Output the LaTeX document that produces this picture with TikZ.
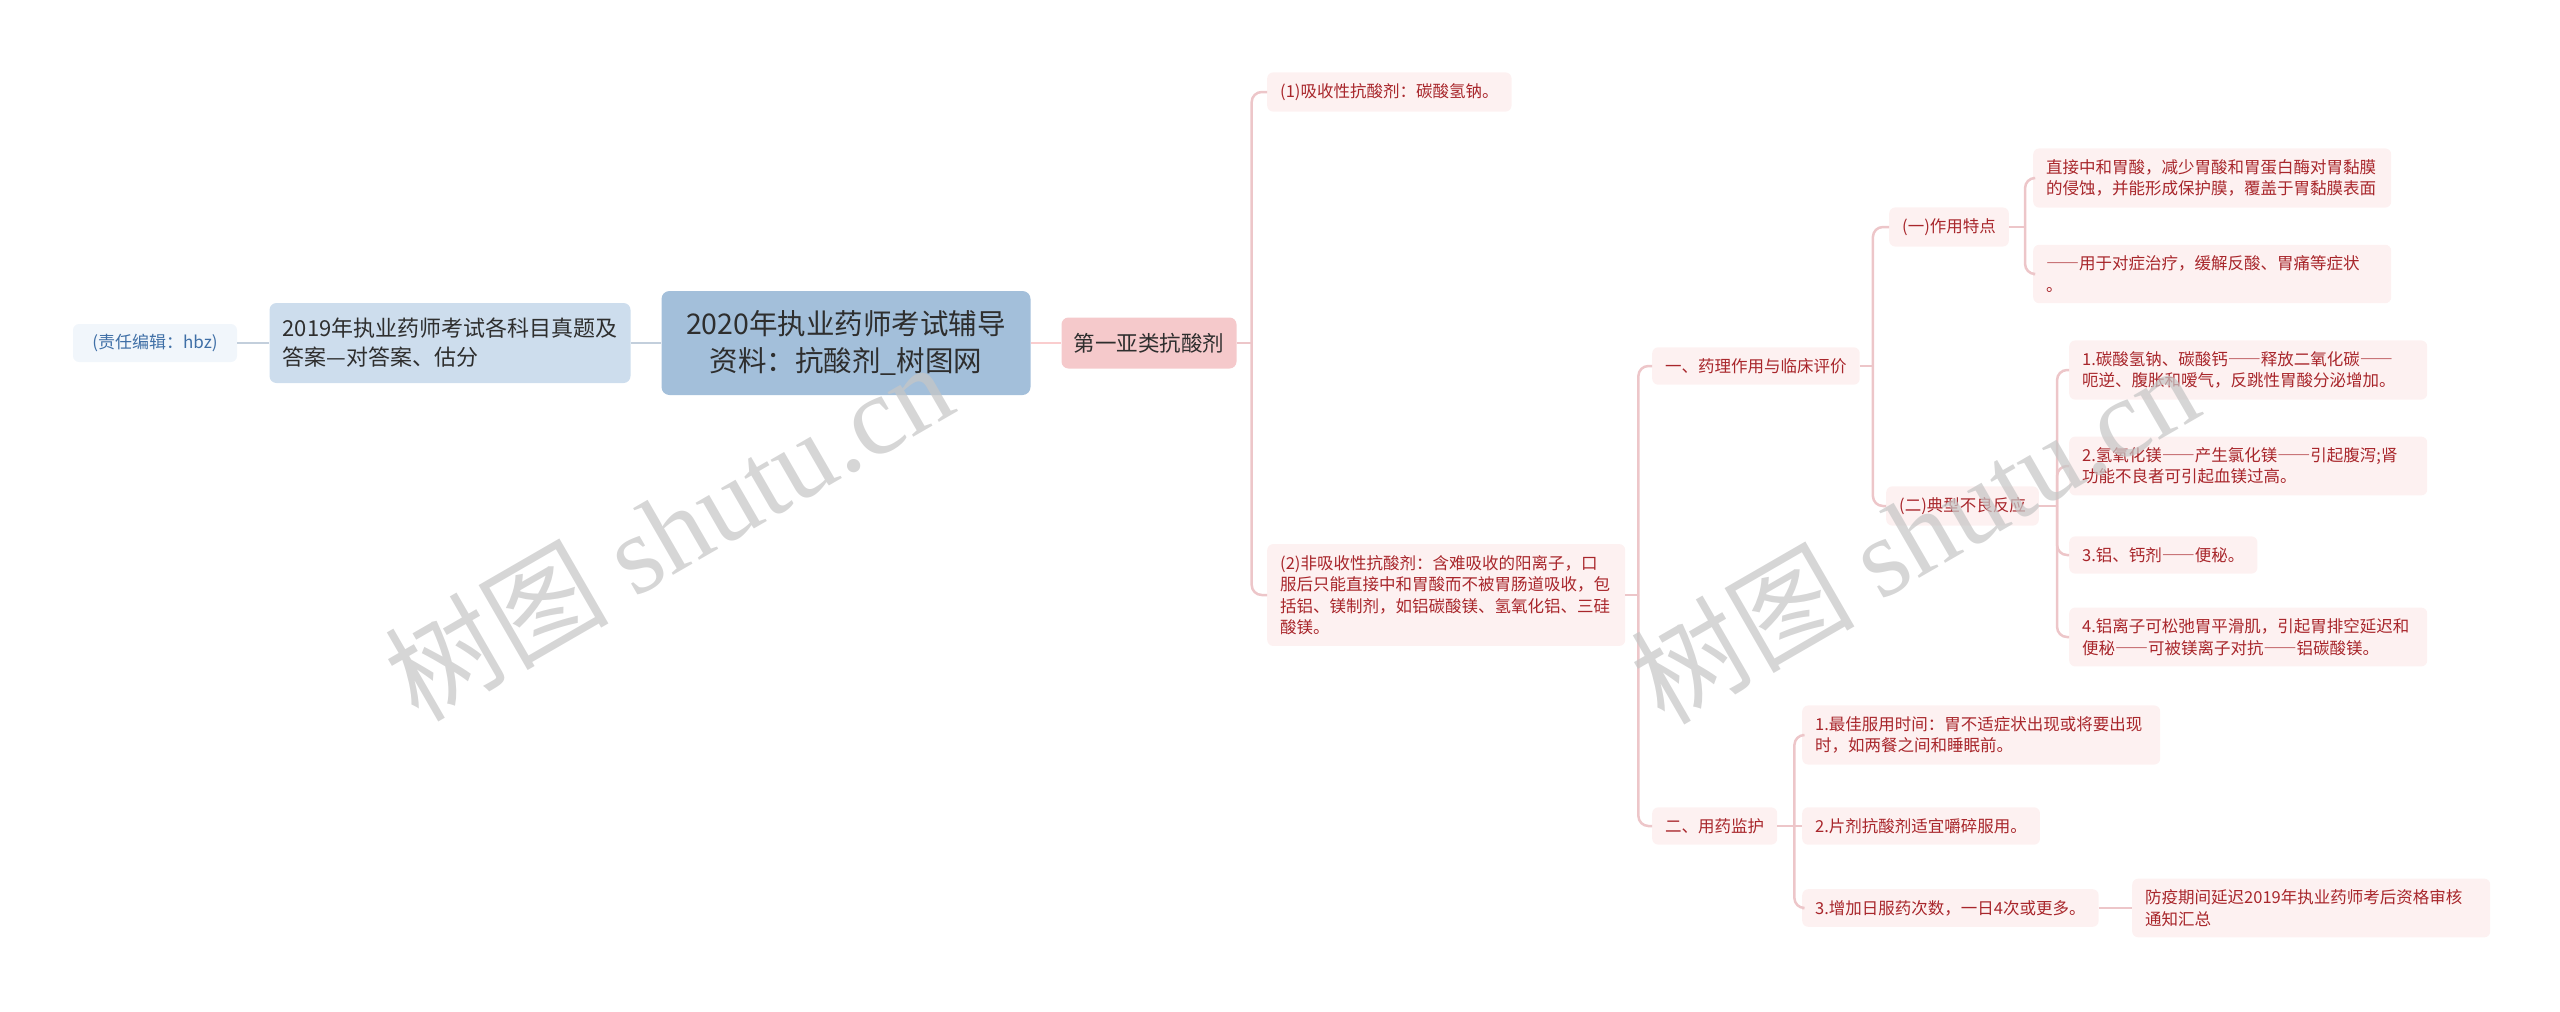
\documentclass[tikz,border=0pt]{standalone}
\usepackage{fontspec}
\setmainfont{Noto Sans CJK SC}
\newfontfamily\wmlatin{Liberation Serif}
\newcommand\dsh{{\addfontfeature{CharacterWidth=Full}——}}
\definecolor{leafbg}{HTML}{FDF1F1}
\definecolor{leaftx}{HTML}{A8262B}
\definecolor{pinkln}{HTML}{EDC6C9}
\definecolor{bluln}{HTML}{C3CFDC}
\definecolor{rootbg}{HTML}{A3BFDA}
\definecolor{lonebg}{HTML}{CDDDED}
\definecolor{edbg}{HTML}{F1F6FB}
\definecolor{edtx}{HTML}{3F6FA6}
\definecolor{subbg}{HTML}{F5C9CB}
\definecolor{darktx}{HTML}{2E2E2E}
\tikzset{
  leaf/.style={fill=leafbg, text=leaftx, rounded corners=6pt, inner xsep=13pt, inner ysep=11pt,
    font=\fontsize{16.5}{21.5}\selectfont, anchor=west, align=left},
  wrapleaf/.style={leaf, text width=332pt},
  link/.style={draw=pinkln, line width=2.5pt, rounded corners=10pt},
  blink/.style={draw=bluln, line width=2.5pt},
  wm/.style={text=gray!45, text opacity=0.72, font=\fontsize{112}{112}\selectfont, inner sep=0pt}
}
\begin{document}
\begin{tikzpicture}[x=1pt,y=-1pt]
\useasboundingbox (0,0) rectangle (2560,1012);

% left side
\node[fill=edbg, text=edtx, rounded corners=6pt, minimum width=164pt, minimum height=38pt,
  font=\fontsize{17}{20}\selectfont] (ed) at (155,343) {(责任编辑：hbz)};
\node[fill=lonebg, text=darktx, rounded corners=7pt, minimum width=361pt, minimum height=80pt,
  align=left, font=\fontsize{22}{29}\selectfont] (lone) at (450,343)
  {2019年执业药师考试各科目真题及\\答案—对答案、估分};
\node[fill=rootbg, text=darktx, rounded corners=8pt, minimum width=369pt, minimum height=104pt,
  align=center, font=\fontsize{28.5}{37.5}\selectfont] (root) at (846,343)
  {2020年执业药师考试辅导\\资料：抗酸剂\_树图网};
\node[fill=subbg, text=darktx, rounded corners=7pt, minimum width=175pt, minimum height=51pt,
  font=\fontsize{21.5}{24}\selectfont] (sub) at (1149,343) {第一亚类抗酸剂};

\draw[blink] (ed.east) -- (lone.west);
\draw[blink] (lone.east) -- (root.west);
\draw[draw=subbg!85!red!60!white, line width=2.5pt] (root.east) -- (sub.west);

% level 2
\node[leaf] (a1) at (1267,92) {(1)吸收性抗酸剂：碳酸氢钠。};
\node[wrapleaf] (a2) at (1267,595) {(2)非吸收性抗酸剂：含难吸收的阳离子，口\\服后只能直接中和胃酸而不被胃肠道吸收，包\\括铝、镁制剂，如铝碳酸镁、氢氧化铝、三硅\\酸镁。};

% level 3
\node[leaf] (b1) at (1652,366) {一、药理作用与临床评价};
\node[leaf] (b2) at (1652,826) {二、用药监护};

% level 4
\node[leaf] (c1) at (1889,227) {(一)作用特点};
\node[leaf] (c2) at (1886,506) {(二)典型不良反应};

% leaves under (一)
\node[wrapleaf] (d1) at (2033,178) {直接中和胃酸，减少胃酸和胃蛋白酶对胃黏膜\\的侵蚀，并能形成保护膜，覆盖于胃黏膜表面};
\node[wrapleaf] (d2) at (2033,274) {\dsh 用于对症治疗，缓解反酸、胃痛等症状\\。};

% leaves under (二)
\node[wrapleaf] (e1) at (2069,370) {1.碳酸氢钠、碳酸钙\dsh 释放二氧化碳\dsh\\呃逆、腹胀和嗳气，反跳性胃酸分泌增加。};
\node[wrapleaf] (e2) at (2069,466) {2.氢氧化镁\dsh 产生氯化镁\dsh 引起腹泻;肾\\功能不良者可引起血镁过高。};
\node[leaf] (e3) at (2069,555) {3.铝、钙剂\dsh 便秘。};
\node[wrapleaf] (e4) at (2069,637) {4.铝离子可松弛胃平滑肌，引起胃排空延迟和\\便秘\dsh 可被镁离子对抗\dsh 铝碳酸镁。};

% leaves under 二
\node[wrapleaf] (f1) at (1802,735) {1.最佳服用时间：胃不适症状出现或将要出现\\时，如两餐之间和睡眠前。};
\node[leaf] (f2) at (1802,826) {2.片剂抗酸剂适宜嚼碎服用。};
\node[leaf] (f3) at (1802,908) {3.增加日服药次数，一日4次或更多。};
\node[wrapleaf] (g1) at (2132,908) {防疫期间延迟2019年执业药师考后资格审核\\通知汇总};

% trunks
\path (sub.east) ++(15,0) coordinate (ts);
\path (a2.east) ++(13,0) coordinate (ta);
\path (b1.east) ++(13,0) coordinate (tb);
\path (c1.east) ++(16,0) coordinate (tc);
\path (c2.east) ++(18,0) coordinate (td);
\path (b2.east) ++(17,0) coordinate (te);

\draw[link] (sub.east) -- (ts);
\draw[link] (ts) |- (a1.west);
\draw[link] (ts) |- (a2.west);

\draw[link] (a2.east) -- (ta);
\draw[link] (ta) |- (b1.west);
\draw[link] (ta) |- (b2.west);

\draw[link] (b1.east) -- (tb);
\draw[link] (tb) |- (c1.west);
\draw[link] (tb) |- (c2.west);

\draw[link] (c1.east) -- (tc);
\draw[link] (tc) |- (d1.west);
\draw[link] (tc) |- (d2.west);

\draw[link] (c2.east) -- (td);
\draw[link] (td) |- (e1.west);
\draw[link] (td) |- (e2.west);
\draw[link] (td) |- (e3.west);
\draw[link] (td) |- (e4.west);

\draw[link] (b2.east) -- (te);
\draw[link] (te) |- (f1.west);
\draw[link] (te) -- (f2.west);
\draw[link] (te) |- (f3.west);

\draw[link] (f3.east) -- (g1.west);

% watermarks
\node[wm, rotate=30] (wm1) at (668,530) {树图 {\wmlatin shutu.cn}};
\node[wm, rotate=30] (wm2) at (1914,533) {树图 {\wmlatin shutu.cn}};
\end{tikzpicture}
\end{document}
